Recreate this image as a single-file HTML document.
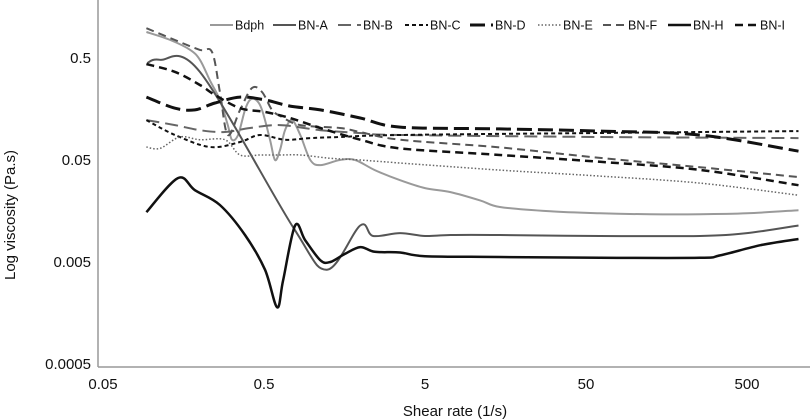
<!DOCTYPE html>
<html><head><meta charset="utf-8">
<style>
html,body{margin:0;padding:0;background:#fff;}
svg{display:block;font-family:"Liberation Sans",Arial,sans-serif;}
</style></head>
<body>
<svg id="chart" width="810" height="420" viewBox="0 0 810 420">
<g id="axes"></g>
<g id="series"></g>
<g id="legend"></g>
<text x="15" y="215" transform="rotate(-90 15 215)" text-anchor="middle" font-size="15" fill="#111">Log viscosity (Pa.s)</text>
<text x="455" y="416" text-anchor="middle" font-size="15" fill="#111">Shear rate (1/s)</text>
</svg>
<script>
const xTicks = [0.05, 0.5, 5, 50, 500];
const xTickLabels = ["0.05", "0.5", "5", "50", "500"];
const yTicks = [0.5, 0.05, 0.005, 0.0005];
const yTickLabels = ["0.5", "0.05", "0.005", "0.0005"];
const seriesNames = ["Bdph","BN-A","BN-B","BN-C","BN-D","BN-E","BN-F","BN-H","BN-I"];
const bdphRate = [0.093,0.131,0.174,0.2,0.231,0.266,0.298,0.316,0.345,0.381,0.409,0.446,0.486,0.545,0.585,0.629,0.675,0.746,0.84,0.97,1.12,1.48,1.84,2.44,3.5,5,7.2,11,14.6,30,61,125,255,500,1044];
const bdphVisc = [0.90,0.75,0.60,0.48,0.30,0.194,0.110,0.079,0.088,0.155,0.194,0.194,0.155,0.079,0.05,0.0626,0.098,0.123,0.088,0.05,0.0446,0.05,0.05,0.0398,0.0317,0.0265,0.0242,0.0201,0.0173,0.0157,0.0150,0.0147,0.0147,0.0150,0.0161];
const bnARate = [0.094,0.113,0.2,0.757,1.23,1.98,2.38,3.5,5,7.2,14.6,61,255,500,1044];
const bnAVisc = [0.446,0.48,0.365,0.0110,0.0042,0.0114,0.0090,0.0096,0.0090,0.0092,0.0092,0.0090,0.0090,0.0096,0.0114];
const bnBRate = [0.093,0.14,0.2,0.286,0.409,0.629,1.12,1.98,3.5,61,1044];
const bnBVisc = [0.123,0.110,0.098,0.094,0.103,0.110,0.098,0.092,0.088,0.084,0.082];
const bnCRate = [0.093,0.14,0.231,0.355,0.472,0.675,0.97,1.48,3.5,61,1044];
const bnCVisc = [0.123,0.088,0.067,0.075,0.088,0.079,0.082,0.084,0.088,0.092,0.096];
const bnDRate = [0.093,0.14,0.186,0.248,0.355,0.507,0.725,1.12,1.98,3.5,14.6,61,255,1044];
const bnDVisc = [0.207,0.161,0.155,0.181,0.207,0.194,0.169,0.155,0.129,0.105,0.101,0.096,0.088,0.061];
const bnERate = [0.093,0.113,0.15,0.2,0.286,0.355,0.472,0.629,0.84,1.29,1.98,3.5,14.6,61,255,1044];
const bnEVisc = [0.067,0.065,0.084,0.079,0.079,0.056,0.056,0.056,0.056,0.052,0.05,0.0467,0.0398,0.0348,0.0297,0.0226];
const bnFRate = [0.093,0.14,0.2,0.238,0.266,0.298,0.355,0.421,0.486,0.561,0.647,0.84,1.48,1.98,3.5,14.6,61,255,1044];
const bnFVisc = [0.98,0.75,0.60,0.57,0.232,0.088,0.155,0.254,0.232,0.155,0.132,0.110,0.103,0.094,0.079,0.0664,0.0524,0.0425,0.034];
const bnHRate = [0.093,0.146,0.186,0.266,0.381,0.507,0.603,0.657,0.78,0.9,1.12,1.29,1.59,1.98,2.44,3.5,5,14.6,61,255,340,606,1044];
const bnHVisc = [0.0154,0.0332,0.0253,0.0181,0.0092,0.0042,0.0018,0.0033,0.0114,0.0082,0.0052,0.0050,0.0060,0.0070,0.0063,0.0062,0.0057,0.0056,0.0055,0.0055,0.0058,0.0073,0.0084];
const bnIRate = [0.093,0.14,0.2,0.248,0.355,0.507,0.725,1.12,1.98,3.5,14.6,61,255,1044];
const bnIVisc = [0.436,0.365,0.272,0.217,0.161,0.148,0.129,0.103,0.079,0.065,0.056,0.048,0.040,0.0283];

const NS = "http://www.w3.org/2000/svg";
const X0 = 264, XD = 161, Y0 = 58, YD = 102;
function xScale(v){ return X0 + XD * Math.log10(v / 0.5); }
function yScale(v){ return Y0 - YD * Math.log10(v / 0.5); }
function mk(tag, attrs, parent){ const e = document.createElementNS(NS, tag); for (const k in attrs) e.setAttribute(k, attrs[k]); parent.appendChild(e); return e; }

const axes = document.getElementById("axes");
const yAxis = mk("line", {x1:98, y1:0, x2:98, y2:367, stroke:"#999", "stroke-width":1.5}, axes);


const xAxis = mk("line", {x1:98, y1:367, x2:810, y2:367, stroke:"#999", "stroke-width":1.5}, axes);


xTicks.forEach((t, i) => {
  const tx = mk("text", {x: xScale(t), y: 389, "text-anchor":"middle", "font-size":15, fill:"#111"}, axes);
  tx.textContent = xTickLabels[i];
  
  
});
yTicks.forEach((t, i) => {
  const ty = mk("text", {x: 91, y: yScale(t) + 5, "text-anchor":"end", "font-size":15, fill:"#111"}, axes);
  ty.textContent = yTickLabels[i];
  
  
});

function smoothPath(pts){
  let d = "M" + pts[0][0].toFixed(1) + "," + pts[0][1].toFixed(1);
  for (let i = 0; i < pts.length - 1; i++){
    const p0 = pts[i-1] || pts[i], p1 = pts[i], p2 = pts[i+1], p3 = pts[i+2] || p2;
    const c1x = p1[0] + (p2[0]-p0[0])/6, c1y = p1[1] + (p2[1]-p0[1])/6;
    const c2x = p2[0] - (p3[0]-p1[0])/6, c2y = p2[1] - (p3[1]-p1[1])/6;
    d += " C" + c1x.toFixed(1) + "," + c1y.toFixed(1) + " " + c2x.toFixed(1) + "," + c2y.toFixed(1) + " " + p2[0].toFixed(1) + "," + p2[1].toFixed(1);
  }
  return d;
}

const rates = [bdphRate, bnARate, bnBRate, bnCRate, bnDRate, bnERate, bnFRate, bnHRate, bnIRate];
const viscs = [bdphVisc, bnAVisc, bnBVisc, bnCVisc, bnDVisc, bnEVisc, bnFVisc, bnHVisc, bnIVisc];
const styles = [
  {stroke:"#9a9a9a", w:2, dash:""},
  {stroke:"#555", w:2, dash:""},
  {stroke:"#666", w:2, dash:"13 6"},
  {stroke:"#111", w:2, dash:"4 3"},
  {stroke:"#111", w:3, dash:"15 6"},
  {stroke:"#666", w:1.5, dash:"1.5 2"},
  {stroke:"#555", w:2, dash:"8 5"},
  {stroke:"#111", w:2.5, dash:""},
  {stroke:"#111", w:2.5, dash:"8 5"}
];
const sg = document.getElementById("series");
seriesNames.forEach((name, i) => {
  const pts = rates[i].map((r, j) => [xScale(r), yScale(viscs[i][j])]);
  const p = mk("path", {d: smoothPath(pts), fill:"none", stroke: styles[i].stroke, "stroke-width": styles[i].w, "stroke-dasharray": styles[i].dash, "stroke-linejoin":"round"}, sg);
  
  
});

const legendX = [210, 273, 338, 405, 470, 538, 603, 668, 735];
const lg = document.getElementById("legend");
seriesNames.forEach((name, i) => {
  const g = mk("g", {}, lg);
  
  
  const x = legendX[i];
  mk("line", {x1:x, y1:25, x2:x+23, y2:25, stroke: styles[i].stroke, "stroke-width": styles[i].w, "stroke-dasharray": styles[i].dash}, g);
  const t = mk("text", {x:x+25, y:29.5, "font-size":12.5, fill:"#111"}, g);
  t.textContent = name;
});
</script>
</body></html>
